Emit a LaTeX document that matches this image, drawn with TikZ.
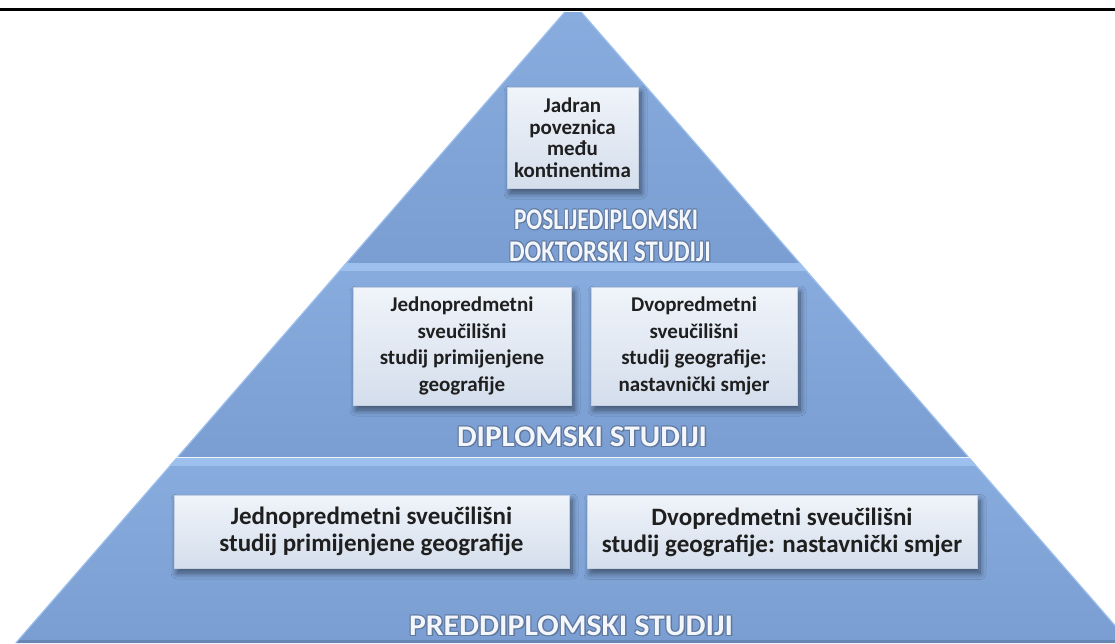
\documentclass[tikz,border=0pt]{standalone}
\usepackage{fontspec}
\usepackage{graphicx}
\setmainfont{Carlito}
\usetikzlibrary{shadows.blur}
\definecolor{pyr}{RGB}{122,158,209}
\definecolor{pyrtop}{RGB}{136,172,222}
\definecolor{pyrlight}{RGB}{158,192,238}
\definecolor{pyrdark}{RGB}{104,134,180}
\definecolor{boxtop}{RGB}{240,244,250}
\definecolor{boxbot}{RGB}{212,222,236}
\definecolor{boxline}{RGB}{196,208,226}
\definecolor{ttlshadow}{RGB}{96,120,158}
\definecolor{ttltext}{RGB}{243,247,252}
\newcommand{\glowpart}[3]{\rlap{\kern#1\raise#2\hbox{\color{ttlshadow}#3}}}
\newcommand{\glowtext}[1]{\leavevmode\glowpart{0.9pt}{0.9pt}{#1}\glowpart{-0.9pt}{0.9pt}{#1}\glowpart{0.9pt}{-0.9pt}{#1}\glowpart{-0.9pt}{-0.9pt}{#1}\glowpart{1.4pt}{-1.4pt}{#1}#1}
\tikzset{
  lvlbox/.style={draw=boxline, line width=0.8pt, top color=boxtop, bottom color=boxbot,
    align=center, inner sep=0pt, text=black!88,
    blur shadow={shadow xshift=3pt, shadow yshift=-5pt, shadow blur steps=8,
      shadow opacity=50, shadow blur radius=6pt}},
  midfont/.style={font=\bfseries\fontsize{21}{26.5}\selectfont},
  botfont/.style={font=\bfseries\fontsize{25}{27}\selectfont},
  topfont/.style={font=\bfseries\fontsize{21}{21.5}\selectfont},
  ttl/.style={text=ttltext, inner sep=0pt, font=\bfseries\fontsize{30}{34}\selectfont},
  band/.style={top color=pyrtop, bottom color=pyr}
}
\begin{document}
\begin{tikzpicture}[x=1pt,y=-1pt]
\useasboundingbox (0,0) rectangle (1115,643);
\begin{scope}
\clip (0,0) rectangle (1115,643);
% top triangle
\path[band] (564.8,12) -- (581.2,12) -- (799.6,263) -- (346.4,263) -- cycle;
% middle band
\path[band] (346.4,263) -- (799.6,263) -- (968.4,457) -- (177.6,457) -- cycle;
\begin{scope}
\clip (346.4,263) -- (799.6,263) -- (968.4,457) -- (177.6,457) -- cycle;
\fill[pyrlight] (0,263) rectangle (1115,271);
\end{scope}
% bottom band
\path[band] (176.8,458) -- (969.2,458) -- (1130.2,643) -- (15.8,643) -- cycle;
\begin{scope}
\clip (176.8,458) -- (969.2,458) -- (1130.2,643) -- (15.8,643) -- cycle;
\fill[pyrlight] (0,458) rectangle (1115,466);
\fill[pyrdark] (0,640) rectangle (1115,643);
\end{scope}
% soft edge highlights
\draw[pyrlight, line width=1.2pt] (581.2,12) -- (799.6,263) (799.6,263) -- (968.4,457) (969.2,458) -- (1130.2,643);
\draw[pyrlight, line width=1.2pt] (564.8,12) -- (346.4,263) (346.4,263) -- (177.6,457) (176.8,458) -- (15.8,643);
\end{scope}
\draw[line width=3pt] (0,9.5) -- (1115,9.5);

% top level
\node[lvlbox, topfont, minimum width=131pt, minimum height=101pt] (kont) at (572.5,137.5)
  {Jadran\\poveznica\\među\\kontinentima};
\node[ttl] (posl) at (606,220) {\resizebox{184pt}{\height}{\glowtext{POSLIJEDIPLOMSKI}}};
\node[ttl] (dokt) at (610,252) {\resizebox{202pt}{\height}{\glowtext{DOKTORSKI STUDIJI}}};

% middle level
\node[lvlbox, midfont, minimum width=218pt, minimum height=118pt] (djed) at (462,346)
  {Jednopredmetni\\sveučilišni\\studij primijenjene\\geografije};
\node[lvlbox, midfont, minimum width=206pt, minimum height=118pt] (ddvo) at (694,346)
  {Dvopredmetni\\sveučilišni\\studij geografije:\\nastavnički smjer};
\node[ttl] (dipl) at (582,437) {\resizebox{250pt}{\height}{\glowtext{DIPLOMSKI STUDIJI}}};

% bottom level
\node[lvlbox, botfont, minimum width=395pt, minimum height=73pt] (pjed) at (371.5,531.5)
  {Jednopredmetni sveučilišni\\studij primijenjene geografije};
\node[lvlbox, botfont, minimum width=390pt, minimum height=73pt] (pdvo) at (782,532)
  {Dvopredmetni sveučilišni\\studij geografije: nastavnički smjer};
\node[ttl] (pred) at (571,626) {\resizebox{324pt}{\height}{\glowtext{PREDDIPLOMSKI STUDIJI}}};
\end{tikzpicture}
\end{document}
